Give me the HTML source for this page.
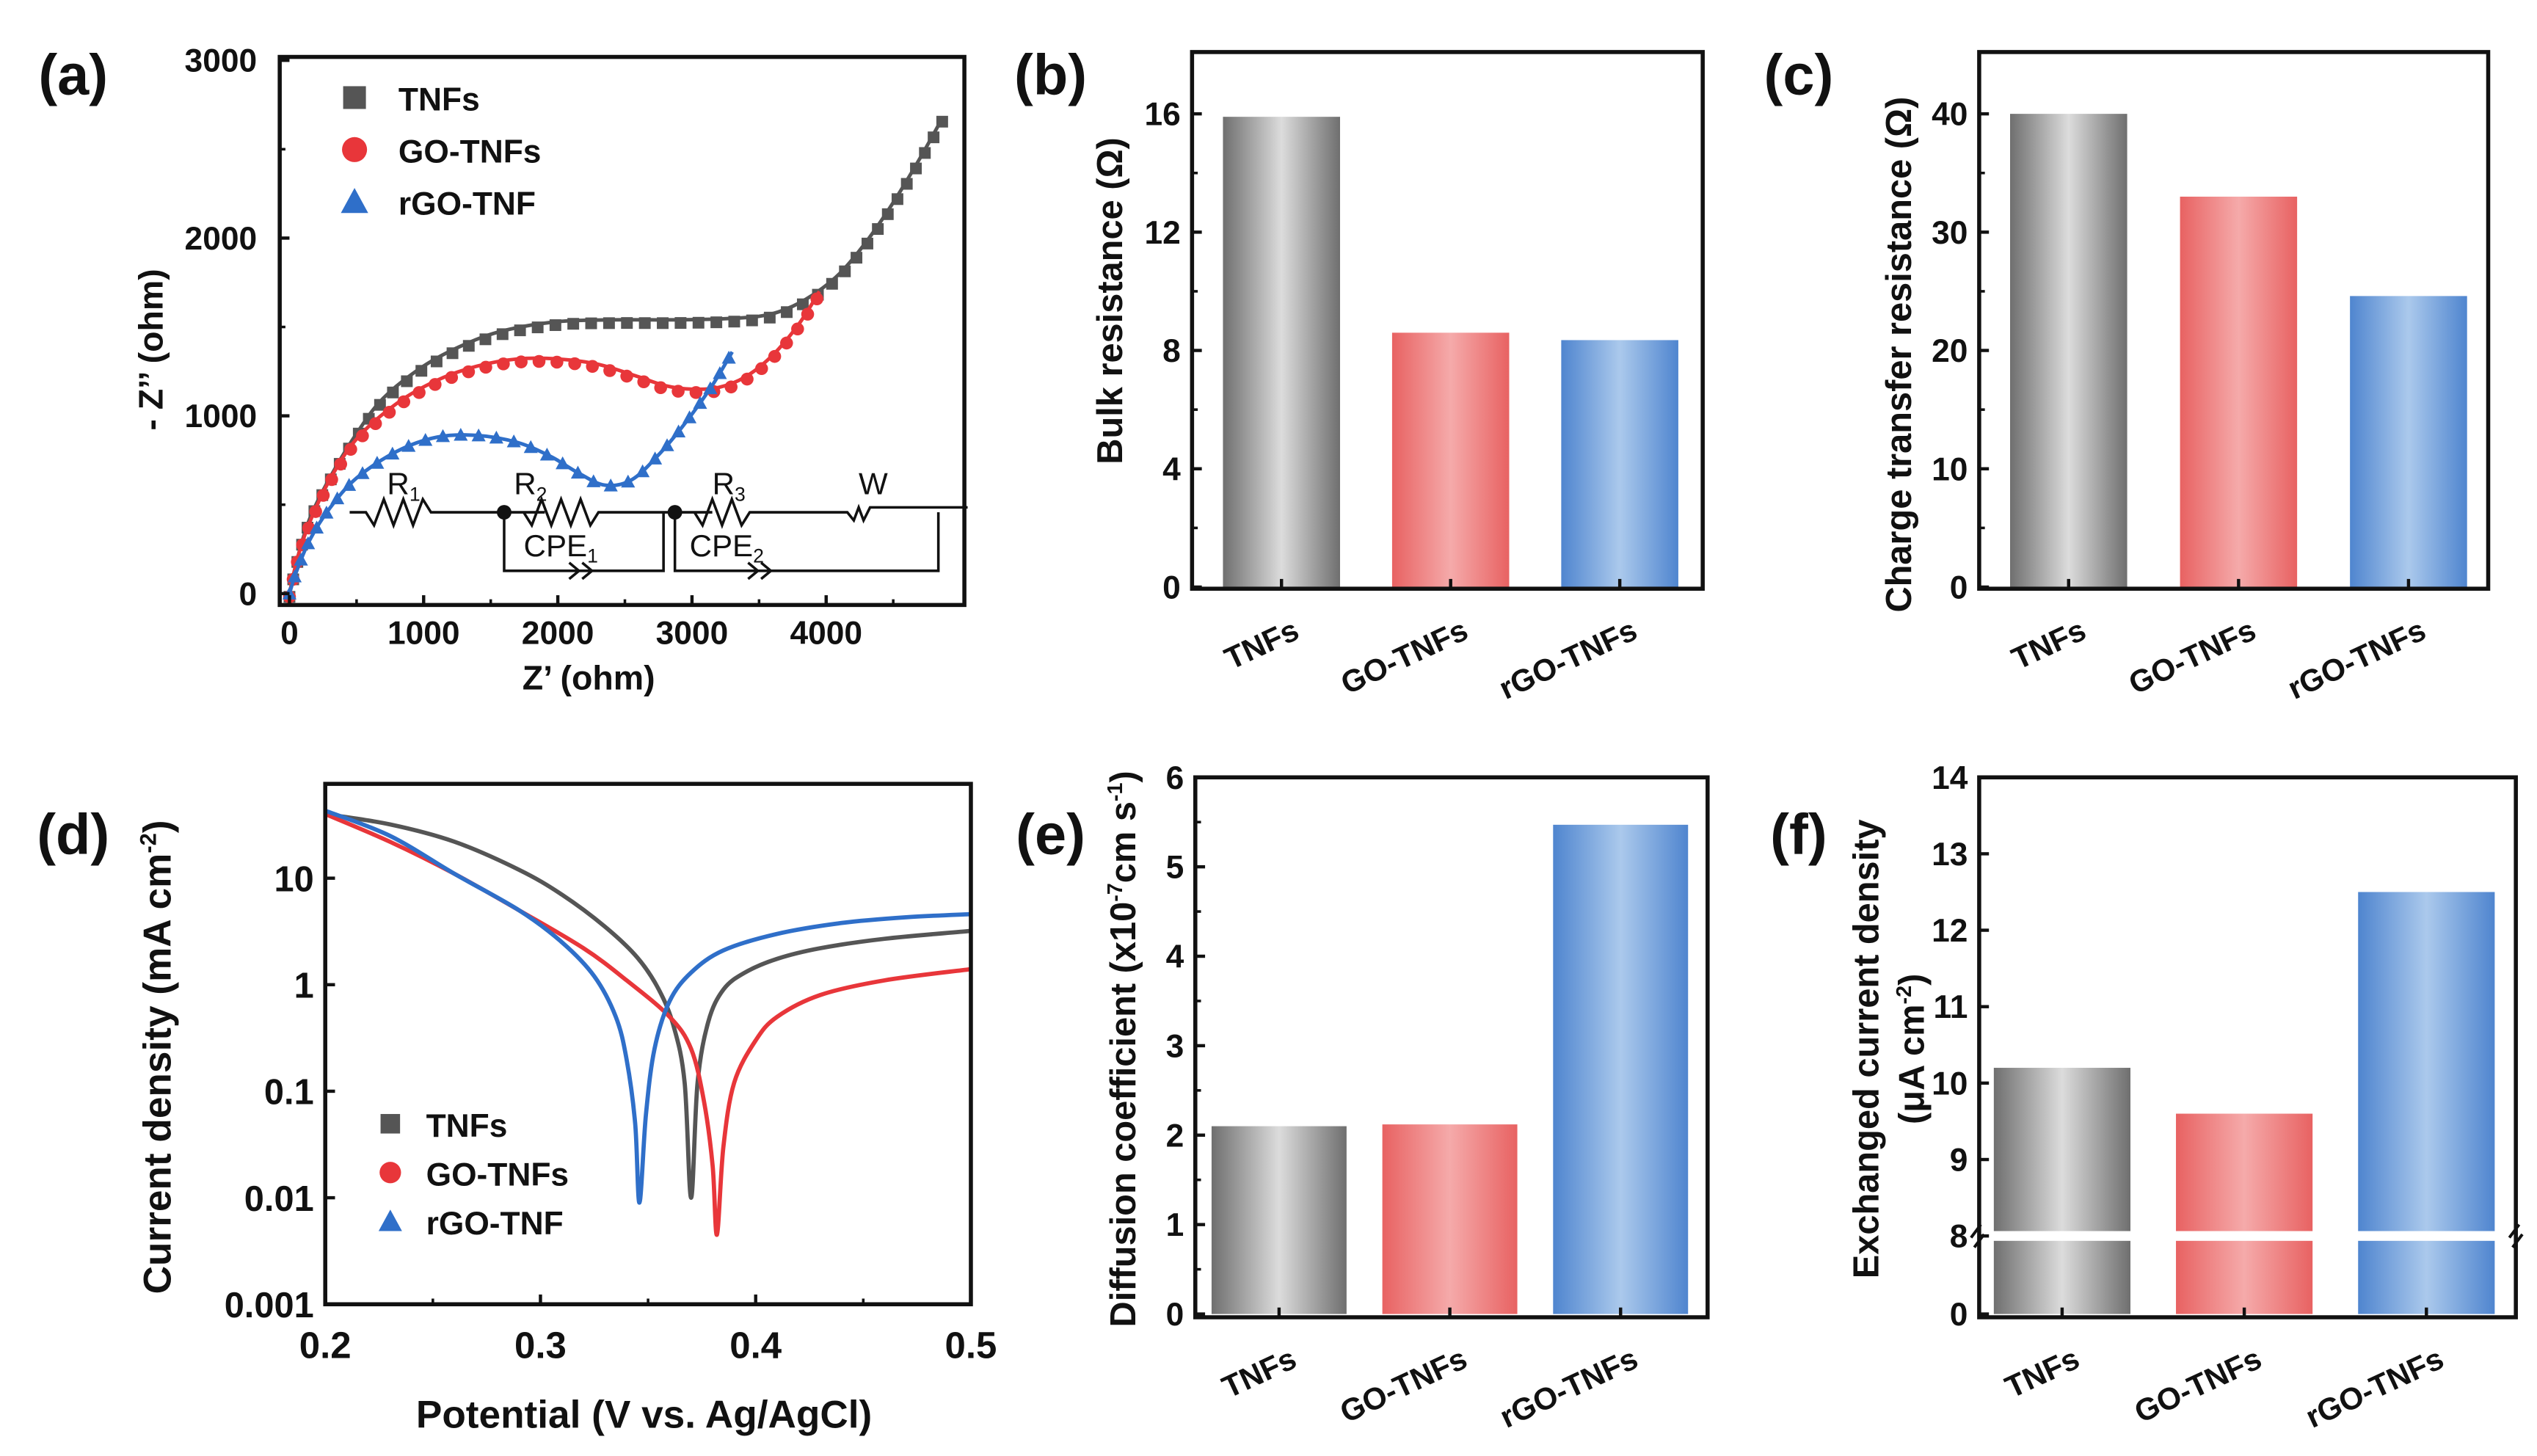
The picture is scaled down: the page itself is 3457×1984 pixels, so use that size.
<!DOCTYPE html>
<html><head><meta charset="utf-8"><style>
html,body{margin:0;padding:0;background:#fff}
svg{display:block}
text{font-family:"Liberation Sans",Arial,sans-serif;font-weight:bold;fill:#111}
</style></head><body>
<svg id="fig" width="3457" height="1984" viewBox="0 0 1560 895.3" xmlns="http://www.w3.org/2000/svg">
<defs>
<linearGradient id="gGray" x1="0" x2="1"><stop offset="0" stop-color="#6f6f6f"/><stop offset="0.5" stop-color="#dcdcdc"/><stop offset="1" stop-color="#6f6f6f"/></linearGradient>
<linearGradient id="gRed" x1="0" x2="1"><stop offset="0" stop-color="#e86262"/><stop offset="0.5" stop-color="#f5aaaa"/><stop offset="1" stop-color="#e86262"/></linearGradient>
<linearGradient id="gBlue" x1="0" x2="1"><stop offset="0" stop-color="#4f85cf"/><stop offset="0.5" stop-color="#abc9ec"/><stop offset="1" stop-color="#4f85cf"/></linearGradient>
</defs>
</svg>
<script>
// ---------- DATA ----------
const barCategories = ["TNFs","GO-TNFs","rGO-TNFs"];
const bulkResistance = [15.9, 8.6, 8.35];
const chargeTransfer = [40, 33, 24.6];
const diffusionCoef = [2.1, 2.12, 5.47];
const exchCurrent = [10.2, 9.6, 12.5];
const bTicks = [0,4,8,12,16];
const cTicks = [0,10,20,30,40];
const eTicks = [0,1,2,3,4,5,6];
const fTicks = [0,8,9,10,11,12,13,14];
// Nyquist (a)
const nyqNames = ["TNFs","GO-TNFs","rGO-TNF"];
const tnfZre = [0,60,150,300,500,700,1000,1300,1600,2000,2400,2800,3200,3500,3700,3900,4100,4300,4500,4700,4870];
const tnfZim = [0,200,420,650,900,1100,1280,1400,1480,1530,1540,1540,1545,1560,1600,1680,1800,1980,2200,2450,2680];
const goZre = [0,60,150,300,500,800,1100,1400,1700,2000,2300,2600,2800,3000,3200,3400,3600,3800,3950];
const goZim = [0,200,400,640,870,1070,1200,1280,1320,1320,1290,1220,1170,1150,1160,1220,1340,1520,1700];
const rgoZre = [0,50,150,300,500,800,1100,1400,1700,1950,2150,2350,2550,2750,2950,3150,3300];
const rgoZim = [0,120,300,480,650,800,880,890,850,770,680,610,640,780,960,1170,1360];
const aXTicks = [0,1000,2000,3000,4000];
const aYTicks = [0,1000,2000,3000];
// Tafel (d)
const tafNames = ["TNFs","GO-TNFs","rGO-TNF"];
const tnfE = [0.2,0.23,0.26,0.29,0.31,0.33,0.345,0.355,0.362,0.367,0.37,0.373,0.378,0.385,0.395,0.41,0.43,0.46,0.5];
const tnfI = [40,32,22,12,7,3.5,1.8,0.9,0.4,0.12,0.01,0.12,0.45,0.9,1.3,1.75,2.2,2.7,3.2];
const goE = [0.2,0.23,0.26,0.29,0.32,0.34,0.36,0.37,0.376,0.38,0.382,0.385,0.39,0.4,0.41,0.43,0.46,0.5];
const goI = [40,22,11,5,2.2,1.1,0.5,0.25,0.08,0.02,0.0045,0.03,0.12,0.3,0.5,0.8,1.1,1.4];
const rgoE = [0.2,0.23,0.26,0.29,0.31,0.325,0.335,0.34,0.344,0.346,0.349,0.353,0.36,0.37,0.385,0.41,0.44,0.47,0.5];
const rgoI = [43,25,11,5,2.5,1.2,0.5,0.2,0.05,0.009,0.06,0.25,0.7,1.3,2.1,3.0,3.8,4.3,4.6];
const dYTicks = [0.001,0.01,0.1,1,10];
const dYLabels = ["0.001","0.01","0.1","1","10"];
const dXTicks = [0.2,0.3,0.4,0.5];
</script>
<script>
const svg = document.getElementById('fig');
const NS = "http://www.w3.org/2000/svg";
function el(tag, attrs, parent, txt){
  const e = document.createElementNS(NS, tag);
  for (const k in attrs) e.setAttribute(k, attrs[k]);
  if (txt !== undefined) e.textContent = txt;
  (parent||svg).appendChild(e);
  return e;
}
const grads = ["url(#gGray)","url(#gRed)","url(#gBlue)"];
const cols = ["#555555","#e8363a","#2f6fc9"];

function text(x,y,s,size,anchor,parent,name,rot){
  const t = el('text',{x:x,y:y,'font-size':size,'text-anchor':anchor||'middle'},parent,s);
  if(rot!==undefined) t.setAttribute('transform','rotate('+rot+' '+x+' '+y+')');
  
  
  return t;
}

// ---------- bar chart ----------
function barChart(o){
  const g = el('g',{});
  
  
  const ys = o.yScale;
  o.values.forEach((v,i)=>{
    const x0 = o.x0 + o.barStart + i*o.step;
    const r = el('rect',{x:x0,y:ys(v),width:o.barW,height:ys(0)-ys(v),fill:grads[i]},g);
    
    
  });
  if (o.breakAt!==undefined){
    const by = ys(o.breakAt);
    el('rect',{x:o.x0+1,y:by-3,width:o.x1-o.x0-2,height:6,fill:'#fff'},g);
    el('path',{d:`M${o.x0-5} ${by+1} l6 -8 M${o.x0-3} ${by+7} l6 -8 M${o.x1-4} ${by+1} l6 -8 M${o.x1-2} ${by+7} l6 -8`,stroke:'#111','stroke-width':1.8,fill:'none'},g);
  }
  el('rect',{x:o.x0,y:o.y0,width:o.x1-o.x0,height:o.y1-o.y0,fill:'none',stroke:'#111','stroke-width':2.5},g);
  o.ticks.forEach(t=>{
    const y = ys(t);
    el('line',{x1:o.x0,x2:o.x0+6,y1:y,y2:y,stroke:'#111','stroke-width':2},g);
    text(o.x0-7,y+7,String(t),20,'end',g,'y-tick-label');
  });
  if (o.minor) o.minor.forEach(t=>{
    const y=ys(t); el('line',{x1:o.x0,x2:o.x0+3.5,y1:y,y2:y,stroke:'#111','stroke-width':1.6},g);
  });
  barCategories.forEach((c,i)=>{
    const cx = o.x0 + o.barStart + i*o.step + o.barW/2;
    el('line',{x1:cx,x2:cx,y1:o.y1,y2:o.y1-6,stroke:'#111','stroke-width':2},g);
    text(cx+12,o.y1+30,c,19,'end',g,'x-category-label',-25);
  });
  return g;
}

// (b)
barChart({name:'bulk-resistance-chart',x0:733,x1:1047,y0:32,y1:362,barStart:19,barW:72,step:104,
  values:bulkResistance,ticks:bTicks,minor:[2,6,10,14],yScale:v=>361-v*(291/16)});
text(690,185,"Bulk resistance (Ω)",22,'middle',svg,'y-axis-title-b',-90);
text(646,58,"(b)",35,'middle',svg,'panel-label-b');
// (c)
barChart({name:'charge-transfer-chart',x0:1217,x1:1530,y0:32,y1:362,barStart:19,barW:72,step:104.5,
  values:chargeTransfer,ticks:cTicks,minor:[5,15,25,35],yScale:v=>361-v*(291/40)});
text(1175,218,"Charge transfer resistance (Ω)",22,'middle',svg,'y-axis-title-c',-90);
text(1106,58,"(c)",35,'middle',svg,'panel-label-c');
// (e)
barChart({name:'diffusion-chart',x0:735,x1:1050,y0:478,y1:810,barStart:10,barW:83,step:105,
  values:diffusionCoef,ticks:eTicks,minor:[0.5,1.5,2.5,3.5,4.5,5.5],yScale:v=>808-v*55});
(function(){
  const t = el('text',{x:698,y:645,'font-size':22,'text-anchor':'middle',transform:'rotate(-90 698 645)'});
  
  
  t.innerHTML = 'Diffusion coefficient (x10<tspan dy="-8" font-size="13">-7</tspan><tspan dy="8">cm s</tspan><tspan dy="-8" font-size="13">-1</tspan><tspan dy="8">)</tspan>';
})();
text(646,525,"(e)",35,'middle',svg,'panel-label-e');
// (f)
const fScale = v => v<=8 ? 808 - v*6 : 760 - (v-8)*47;
barChart({name:'exchange-current-chart',x0:1217,x1:1547,y0:478,y1:810,barStart:9,barW:84,step:112,
  values:exchCurrent,ticks:fTicks,breakAt:8,yScale:fScale});
text(1155,645,"Exchanged current density",22,'middle',svg,'y-axis-title-f',-90);
(function(){
  const t = el('text',{x:1183,y:645,'font-size':22,'text-anchor':'middle',transform:'rotate(-90 1183 645)'});
  
  
  t.innerHTML = '(μA cm<tspan dy="-8" font-size="13">-2</tspan><tspan dy="8">)</tspan>';
})();
text(1106,525,"(f)",35,'middle',svg,'panel-label-f');

// ---------- smooth path ----------
function smooth(pts){
  let d = `M${pts[0][0]} ${pts[0][1]}`;
  for(let i=0;i<pts.length-1;i++){
    const p0=pts[Math.max(0,i-1)],p1=pts[i],p2=pts[i+1],p3=pts[Math.min(pts.length-1,i+2)];
    const c1=[p1[0]+(p2[0]-p0[0])/6,p1[1]+(p2[1]-p0[1])/6];
    const c2=[p2[0]-(p3[0]-p1[0])/6,p2[1]-(p3[1]-p1[1])/6];
    d+=` C${c1[0]} ${c1[1]} ${c2[0]} ${c2[1]} ${p2[0]} ${p2[1]}`;
  }
  return d;
}
function marker(g,type,x,y,s,col){
  let m;
  if(type===0) m=el('rect',{x:x-s,y:y-s,width:2*s,height:2*s,fill:col},g);
  else if(type===1) m=el('circle',{cx:x,cy:y,r:s*1.1,fill:col},g);
  else m=el('path',{d:`M${x} ${y-s*1.2} L${x+s*1.2} ${y+s} L${x-s*1.2} ${y+s} Z`,fill:col},g);
  
  
  return m;
}

// ---------- (a) Nyquist ----------
(function(){
  const g = el('g',{});
  
  
  const X=v=>178+v*0.0825, Y=v=>365-v*0.1093;
  const L=172,R=593,T=35,B=372;
  const series=[[tnfZre,tnfZim],[goZre,goZim],[rgoZre,rgoZim]];
  series.forEach((s,k)=>{
    const pts = s[0].map((v,i)=>[X(v),Y(s[1][i])]);
    const p = el('path',{d:smooth(pts),fill:'none',stroke:cols[k],'stroke-width':2.2},g);
    
    
    const len = p.getTotalLength();
    for(let l=0;l<=len;l+=11){
      const q=p.getPointAtLength(l);
      marker(g,k,q.x,q.y+ (k===2?0:2),3.6,cols[k]);
    }
  });
  el('rect',{x:L,y:T,width:R-L,height:B-T,fill:'none',stroke:'#111','stroke-width':2.5},g);
  aXTicks.forEach(t=>{el('line',{x1:X(t),x2:X(t),y1:B,y2:B-6,stroke:'#111','stroke-width':2},g);text(X(t),B+24,String(t),20,'middle',g,'x-tick-label');});
  [500,1500,2500,3500,4500].forEach(t=>el('line',{x1:X(t),x2:X(t),y1:B,y2:B-3.5,stroke:'#111','stroke-width':1.6},g));
  aYTicks.forEach(t=>{el('line',{x1:L,x2:L+6,y1:Y(t),y2:Y(t),stroke:'#111','stroke-width':2},g);text(L-14,Y(t)+7,String(t),20,'end',g,'y-tick-label');});
  [500,1500,2500].forEach(t=>el('line',{x1:L,x2:L+3.5,y1:Y(t),y2:Y(t),stroke:'#111','stroke-width':1.6},g));
  text(362,424,"Z’ (ohm)",21,'middle',g,'x-axis-title-a');
  text(100,215,"- Z’’ (ohm)",21,'middle',g,'y-axis-title-a',-90);
  nyqNames.forEach((n,k)=>{
    const y=60+k*32;
    marker(g,k,218,y,7,cols[k]);
    text(245,y+8,n,20,'start',g,'legend-entry-'+n.toLowerCase());
  });
  const c = el('g',{stroke:'#111','stroke-width':1.6,fill:'none'},g);
  
  
  const yw=315;
  el('path',{d:`M215 ${yw} h10 l5 8 l6 -16 l6 16 l6 -16 l6 16 l6 -16 l5 8 h70 M310 ${yw} h12 l5 8 l6 -16 l6 16 l6 -16 l6 16 l6 -16 l6 16 l5 -8 h70 M415 ${yw} h12 l5 8 l6 -16 l6 16 l6 -16 l6 16 l5 -8 h60 l4 5 l3 -8 l3 8 l4 -8 h60 M310 ${yw} v36 h98 v-36 M415 ${yw} v36 h162 v-36 M350 346 l6 5 l-6 5 M358 346 l6 5 l-6 5 M460 346 l6 5 l-6 5 M468 346 l6 5 l-6 5`},c);
  el('circle',{cx:310,cy:yw,r:4.5,fill:'#111',stroke:'none'},g);
  el('circle',{cx:415,cy:yw,r:4.5,fill:'#111',stroke:'none'},g);
  const ct=(x,y,s,sub)=>{const t=el('text',{x:x,y:y,'font-size':19,'text-anchor':'start',style:'font-weight:normal'},g);t.innerHTML=s+'<tspan dy="4" font-size="12">'+sub+'</tspan>';};
  ct(238,304,'R','1'); ct(316,304,'R','2'); ct(438,304,'R','3'); ct(528,304,'W','');
  ct(322,342,'CPE','1'); ct(424,342,'CPE','2');
  text(45,58,"(a)",35,'middle',svg,'panel-label-a');
})();

// ---------- (d) Tafel ----------
(function(){
  const g = el('g',{});
  
  
  const L=200,R=597,T=482,B=802;
  const X=v=>200+(v-0.2)*1323.3, Y=v=>802-(Math.log10(v)+3)*65.5;
  const series=[[tnfE,tnfI],[goE,goI],[rgoE,rgoI]];
  series.forEach((s,k)=>{
    const pts=s[0].map((v,i)=>[X(v),Y(s[1][i])]);
    const p=el('path',{d:smooth(pts),fill:'none',stroke:cols[k],'stroke-width':2.6},g);
    
    
  });
  el('rect',{x:L,y:T,width:R-L,height:B-T,fill:'none',stroke:'#111','stroke-width':2.5},g);
  dYTicks.forEach((t,i)=>{const y=Y(t);el('line',{x1:L,x2:L+6,y1:y,y2:y,stroke:'#111','stroke-width':2},g);text(L-7,y+8,dYLabels[i],22,'end',g,'y-tick-label');});
  dXTicks.forEach(t=>{el('line',{x1:X(t),x2:X(t),y1:B,y2:B-6,stroke:'#111','stroke-width':2},g);text(X(t),B+33,t.toFixed(1),23,'middle',g,'x-tick-label');});
  [0.25,0.35,0.45].forEach(t=>el('line',{x1:X(t),x2:X(t),y1:B,y2:B-3.5,stroke:'#111','stroke-width':1.6},g));
  text(396,878,"Potential (V vs. Ag/AgCl)",24,'middle',g,'x-axis-title-d');
  (function(){
    const t=el('text',{x:105,y:650,'font-size':24,'text-anchor':'middle',transform:'rotate(-90 105 650)'},g);
    
    
    t.innerHTML='Current density (mA cm<tspan dy="-9" font-size="14">-2</tspan><tspan dy="9">)</tspan>';
  })();
  tafNames.forEach((n,k)=>{
    const y=697+k*30;
    marker(g,k,240,y-6,6,cols[k]);
    text(262,y+2,n,20,'start',g,'legend-entry-'+n.toLowerCase());
  });
  text(45,525,"(d)",35,'middle',svg,'panel-label-d');
})();
</script>
</body></html>
